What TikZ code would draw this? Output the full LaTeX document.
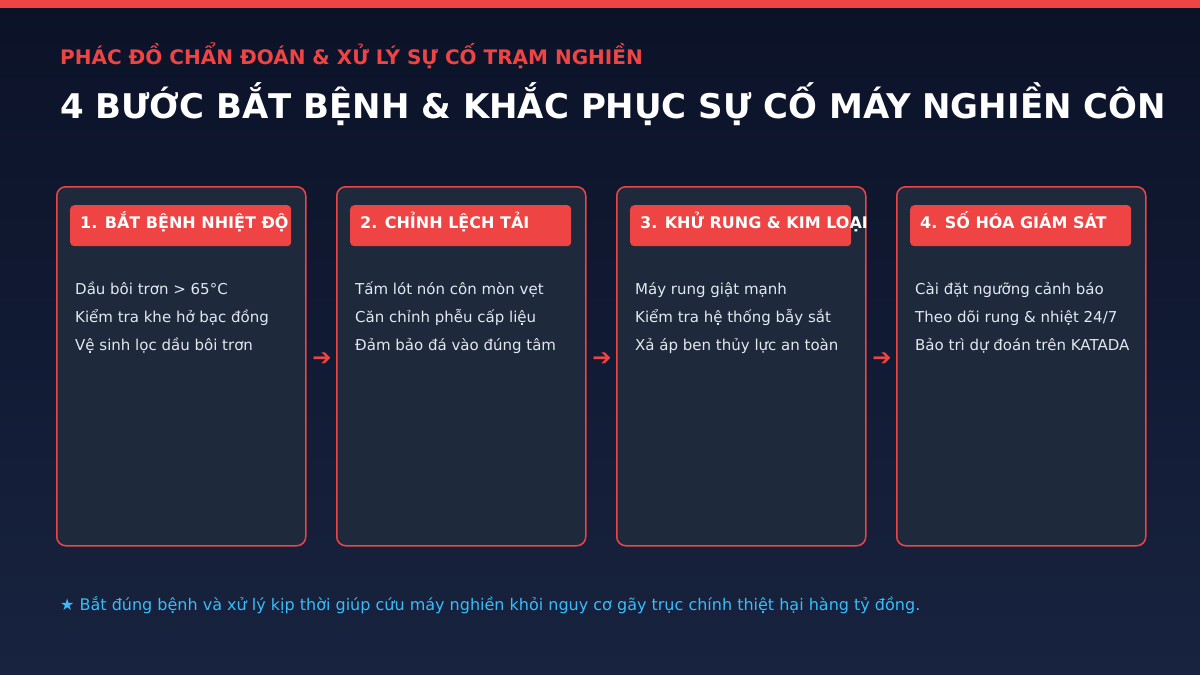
\documentclass[tikz,border=0pt]{standalone}
\usepackage{fontspec}
\setmainfont{DejaVu Sans}
\begin{document}
\begin{tikzpicture}[x=1pt,y=-1pt,
  card/.style={draw=accent, line width=1.5pt, fill=cardbg, rounded corners=9pt, minimum width=249pt, minimum height=359pt, inner sep=0pt},
  head/.style={fill=accent, rounded corners=4pt, minimum width=221pt, minimum height=41pt, inner sep=0pt},
  headtxt/.style={anchor=base west, text=white, font=\fontsize{16}{19}\selectfont\bfseries, inner sep=0pt},
  body/.style={anchor=base west, text=bodytxt, font=\fontsize{15}{18}\selectfont, inner sep=0pt},
  arr/.style={text=accent, font=\fontsize{23}{26}\selectfont, inner sep=0pt}
]
\definecolor{accent}{HTML}{EF4444}
\definecolor{cardbg}{HTML}{1E293B}
\definecolor{bgtop}{HTML}{0B1228}
\definecolor{bgbot}{HTML}{18233F}
\definecolor{bodytxt}{HTML}{E2E8F0}
\definecolor{foot}{HTML}{38BDF8}
\useasboundingbox (0,0) rectangle (1200,675);
\shade[top color=bgtop, bottom color=bgbot] (0,0) rectangle (1200,675);
\fill[accent] (0,0) rectangle (1200,8);
\node[anchor=base west, inner sep=0pt, text=accent, font=\fontsize{20}{24}\selectfont\bfseries] (sub) at (60,64) {PHÁC ĐỒ CHẨN ĐOÁN \& XỬ LÝ SỰ CỐ TRẠM NGHIỀN};
\node[anchor=base west, inner sep=0pt, text=white, font=\fontsize{34}{40}\selectfont\bfseries] (title) at (60,118) {4 BƯỚC BẮT BỆNH \& KHẮC PHỤC SỰ CỐ MÁY NGHIỀN CÔN};
\foreach \i/\x/\h/\a/\b/\c in {
 1/56/{1. BẮT BỆNH NHIỆT ĐỘ}/{Dầu bôi trơn > 65°C}/{Kiểm tra khe hở bạc đồng}/{Vệ sinh lọc dầu bôi trơn},
 2/336/{2. CHỈNH LỆCH TẢI}/{Tấm lót nón côn mòn vẹt}/{Căn chỉnh phễu cấp liệu}/{Đảm bảo đá vào đúng tâm},
 3/616/{3. KHỬ RUNG \& KIM LOẠI}/{Máy rung giật mạnh}/{Kiểm tra hệ thống bẫy sắt}/{Xả áp ben thủy lực an toàn},
 4/896/{4. SỐ HÓA GIÁM SÁT}/{Cài đặt ngưỡng cảnh báo}/{Theo dõi rung \& nhiệt 24/7}/{Bảo trì dự đoán trên KATADA}}{
  \node[card, anchor=north west] (c\i) at (\x,186) {};
  \node[head, anchor=north west] (h\i) at (\x+14,205) {};
  \node[headtxt] (ht\i) at (\x+24,228) {\h};
  \node[body] (b\i a) at (\x+19,294) {\a};
  \node[body] (b\i b) at (\x+19,322) {\b};
  \node[body] (b\i c) at (\x+19,350) {\c};
}
\node[arr] (a1) at (322,359) {➔};
\node[arr] (a2) at (602,359) {➔};
\node[arr] (a3) at (882,359) {➔};
\node[anchor=base west, inner sep=0pt, text=foot, font=\fontsize{16}{19}\selectfont] (note) at (60,610) {★ Bắt đúng bệnh và xử lý kịp thời giúp cứu máy nghiền khỏi nguy cơ gãy trục chính thiệt hại hàng tỷ đồng.};
\end{tikzpicture}
\end{document}
